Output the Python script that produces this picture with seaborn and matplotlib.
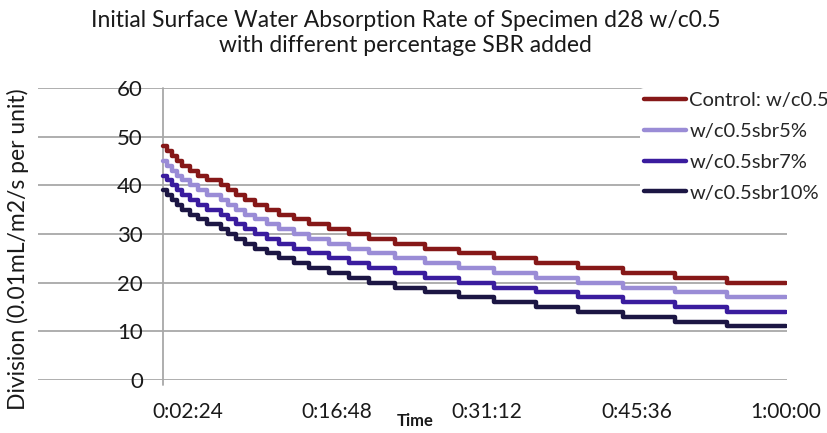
import matplotlib
matplotlib.use("Agg")
import matplotlib.pyplot as plt
import pandas as pd
import seaborn as sns

# time (minutes) of each reading where the stepped curves change
times = [0.0, 0.4, 0.9, 1.4, 1.9, 2.6, 3.4, 4.3, 5.6, 6.3, 7.1, 7.9, 8.9, 10.0, 11.2,
         12.6, 14.1, 16.0, 17.9, 19.9, 22.4, 25.3, 28.5, 31.9, 35.9, 40.0, 44.3,
         49.3, 54.3, 60.0]

control = [48, 47, 46, 45, 44, 43, 42, 41, 40, 39, 38, 37, 36, 35, 34, 33, 32, 31,
           30, 29, 28, 27, 26, 25, 24, 23, 22, 21, 20, 20]
sbr5 = [45, 44, 43, 42, 41, 40, 39, 38, 37, 36, 35, 34, 33, 32, 31, 30, 29, 28,
        27, 26, 25, 24, 23, 22, 21, 20, 19, 18, 17, 17]
sbr7 = [42, 41, 40, 39, 38, 37, 36, 35, 34, 33, 32, 31, 30, 29, 28, 27, 26, 25,
        24, 23, 22, 21, 20, 19, 18, 17, 16, 15, 14, 14]
sbr10 = [39, 38, 37, 36, 35, 34, 33, 32, 31, 30, 29, 28, 27, 26, 25, 24, 23, 22,
         21, 20, 19, 18, 17, 16, 15, 14, 13, 12, 11, 11]

series_names = ["Control: w/c0.5", "w/c0.5sbr5%", "w/c0.5sbr7%", "w/c0.5sbr10%"]
colors = ["#861818", "#9A8CD6", "#3A1C9E", "#1C1644"]

tick_times = [2.4, 16.8, 31.2, 45.6, 60.0]
tick_labels = ["0:02:24", "0:16:48", "0:31:12", "0:45:36", "1:00:00"]

frames = []
for name, vals in zip(series_names, [control, sbr5, sbr7, sbr10]):
    frames.append(pd.DataFrame({"time": times, "value": vals, "series": name}))
df = pd.concat(frames, ignore_index=True)

sns.set_theme(style="white")
plt.rcParams["font.family"] = ["Lato", "DejaVu Sans"]

fig = plt.figure(figsize=(8.28, 4.33), dpi=100)
ax = fig.add_axes([38 / 828, 1 - 380 / 433, 749 / 828, 292 / 433])

sns.lineplot(data=df, x="time", y="value", hue="series", palette=colors,
             hue_order=series_names, estimator=None, sort=False,
             drawstyle="steps-post", linewidth=3.2, ax=ax, zorder=3)

ax.set_xlim(-12.0, 60.1)
ax.set_ylim(0, 60)
ax.set_yticks(range(0, 61, 10))
ax.set_xticks(tick_times)
ax.set_xticklabels(tick_labels)
ax.grid(axis="y", color="#a8a8a8", linewidth=1.3)
ax.grid(axis="x", visible=False)
for s in ax.spines.values():
    s.set_visible(False)
ax.axvline(0, ymin=-0.017, ymax=1, color="#a8a8a8", linewidth=1.3, clip_on=False,
           zorder=2)

ax.tick_params(axis="y", length=0, pad=-75.6, labelsize=16, colors="#1a1a1a")
ax.tick_params(axis="x", length=0, pad=16, labelsize=15, colors="#1a1a1a")

ax.set_xlabel("Time", fontsize=12, fontweight="bold", color="#1a1a1a", va="top")
ax.xaxis.set_label_coords(0.503, -0.113)
ax.set_ylabel("Division (0.01mL/m2/s per unit)", fontsize=16.5, color="#1a1a1a")
ax.yaxis.set_label_coords(-0.012, 0.449)

fig.suptitle("Initial Surface Water Absorption Rate of Specimen d28 w/c0.5\n"
             "with different percentage SBR added",
             x=0.49, y=1 - 10 / 433, va="top", fontsize=16.5, linespacing=1.25,
             color="#1a1a1a")

leg = ax.legend(loc="upper left", bbox_to_anchor=(640 / 828, 1 - 88 / 433),
                bbox_transform=fig.transFigure, fontsize=14.5, frameon=True,
                facecolor="white", edgecolor="none", framealpha=1,
                handlelength=2.1, handletextpad=0.15, labelspacing=0.68,
                borderpad=0.2, borderaxespad=0)
for line in leg.get_lines():
    line.set_linewidth(3.2)

fig.savefig("out.png", dpi=100)
